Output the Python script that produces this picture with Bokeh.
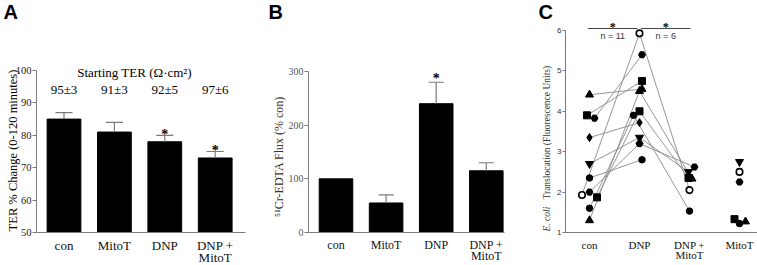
import math
from bokeh.plotting import figure
from bokeh.layouts import row
from bokeh.models import Range1d, FixedTicker
from bokeh.core.properties import value
from bokeh.embed import file_html
from bokeh.resources import INLINE

# ---------------- data ----------------
a_cats = ["con", "MitoT", "DNP", "DNP + MitoT"]
a_vals = [85, 81, 78, 73]
a_errs = [2, 3, 2, 2]
a_start = ["95±3", "91±3", "92±5", "97±6"]
a_sig = [False, False, True, True]
a_yticks = [50, 60, 70, 80, 90, 100]

b_cats = ["con", "MitoT", "DNP", "DNP + MitoT"]
b_vals = [100, 55, 240, 115]
b_errs = [0, 15, 40, 15]
b_sig = [False, False, True, False]
b_yticks = [0, 100, 200, 300]

c_cats = ["con", "DNP", "DNP + MitoT", "MitoT"]
c_markers = ["circle", "hex", "square", "triangle", "triangle", "square",
             "circle", "diamond", "inverted_triangle", "hex", "circle"]
c_open = [True, False, False, False, False, False, False, False, False, False, False]
c_con = [1.93, 3.83, 3.90, 4.41, 1.30, 1.87, 1.60, 3.35, 2.70, 2.00, 2.35]
c_dnp = [5.93, 5.40, 4.75, 4.55, 4.50, 4.00, 3.90, 3.72, 3.35, 3.20, 2.80]
c_dnp_mitot = [2.05, None, None, None, 2.33, 2.35, 1.53, None, 2.50, 2.62, None]
c_jit_con = [-0.15, 0.1, -0.05, 0, 0, 0.15, 0, 0, 0, 0, 0]
c_jit_dnp = [0, 0.05, 0.05, 0.05, 0, 0, -0.12, 0, 0, 0, 0.05]
c_jit_dm = [0, 0, 0, 0.1, 0.05, -0.02, 0, 0, -0.02, 0.1, 0]
c_mitot_markers = ["inverted_triangle", "circle", "hex", "square", "circle", "triangle"]
c_mitot_open = [False, True, False, False, False, False]
c_mitot = [2.75, 2.50, 2.25, 1.33, 1.22, 1.27]
c_jit_mitot = [0, 0, 0, -0.1, 0, 0.12]
c_yticks = [1, 2, 3, 4, 5, 6]
c_sig_n = ["n = 11", "n = 6"]

SERIF = "Liberation Serif"
SANS = "Liberation Sans"
AXC = "#7a7a7a"
H = 265
PAGE = 0


class Geo:
    """linear map between page pixels and data units for one panel (frame = whole canvas)"""
    def __init__(self, left_px, width, ax_px, ax_x, kx, base_py, base_y, ky):
        self.left_px, self.width = left_px, width
        self.ax_px, self.ax_x, self.kx = ax_px, ax_x, kx
        self.base_py, self.base_y, self.ky = base_py, base_y, ky

    def x(self, px):
        return self.ax_x + (px - self.ax_px) / self.kx

    def y(self, py):
        return self.base_y + (self.base_py - py) / self.ky

    def fig(self):
        p = figure(width=self.width, height=H, output_backend="svg", toolbar_location=None,
                   x_range=Range1d(self.x(self.left_px), self.x(self.left_px + self.width)),
                   y_range=Range1d(self.y(PAGE + H), self.y(PAGE)),
                   min_border_left=0, min_border_right=0, min_border_top=0,
                   min_border_bottom=0)
        p.outline_line_color = None
        p.xgrid.visible = False
        p.ygrid.visible = False
        return p


def style_axes(p, g, yticks, x_end_px, tick_font, tick_size, tick_color, xticks, xlabels,
               xl_size, xl_standoff):
    p.yaxis.fixed_location = g.ax_x
    p.yaxis.bounds = (yticks[0], yticks[-1])
    p.yaxis.ticker = FixedTicker(ticks=yticks)
    p.yaxis.axis_line_color = AXC
    p.yaxis.major_tick_line_color = AXC
    p.yaxis.major_tick_out = 4
    p.yaxis.major_tick_in = 0
    p.yaxis.minor_tick_line_color = None
    p.yaxis.major_label_text_font = tick_font
    p.yaxis.major_label_text_font_size = tick_size
    p.yaxis.major_label_text_color = tick_color
    p.yaxis.major_label_standoff = 1
    p.xaxis.fixed_location = g.base_y
    p.xaxis.bounds = (g.ax_x, g.x(x_end_px))
    p.xaxis.ticker = FixedTicker(ticks=xticks)
    p.xaxis.major_label_overrides = {t: l.replace(" + ", " +\n") for t, l in zip(xticks, xlabels)}
    p.xaxis.axis_line_color = AXC
    p.xaxis.major_tick_line_color = None
    p.xaxis.minor_tick_line_color = None
    p.xaxis.major_tick_out = 0
    p.xaxis.major_label_text_font = SERIF
    p.xaxis.major_label_text_font_size = xl_size
    p.xaxis.major_label_text_color = "#111111"
    p.xaxis.major_label_text_line_height = 0.85
    p.xaxis.major_label_standoff = xl_standoff


def txt(p, x, y, text, size, font=SERIF, color="black", align="center",
        baseline="middle", angle=0, style="normal"):
    p.text(x=[x], y=[y], text=[text], text_font_size=value(size), text_font=value(font),
           text_color=color, text_align=align, text_baseline=baseline, angle=angle,
           text_font_style=style)


def bars(p, g, cats, vals, errs, width, capw):
    xs = [i + 0.5 for i in range(len(cats))]
    p.vbar(x=xs, top=vals, bottom=g.base_y, width=width, fill_color="black",
           line_color="black")
    ex = [x for x, e in zip(xs, errs) if e > 0]
    ey0 = [v for v, e in zip(vals, errs) if e > 0]
    ey1 = [v + e for v, e in zip(vals, errs) if e > 0]
    p.segment(x0=ex, y0=ey0, x1=ex, y1=ey1, line_color=AXC, line_width=1.2)
    p.segment(x0=[x - capw / 2 for x in ex], y0=ey1, x1=[x + capw / 2 for x in ex],
              y1=ey1, line_color=AXC, line_width=1.2)
    return xs


# ---------------- panel A ----------------
gA = Geo(0, 252, 36, 0.5 - 27.5 / 50.4, 50.4, 232, a_yticks[0], 162 / 50)
pA = gA.fig()
style_axes(pA, gA, a_yticks, 245, SERIF, "10.5px", "#222222",
           [i + 0.5 for i in range(4)], a_cats, "13px", 5)
xsA = bars(pA, gA, a_cats, a_vals, a_errs, 0.67, 0.34)
for x, v, e, s, t in zip(xsA, a_vals, a_errs, a_sig, a_start):
    txt(pA, x, gA.y(89), t, "13px")
    if s:
        txt(pA, x, v + e + 2.5 - 7 / gA.ky, "*", "14px", baseline="alphabetic", style="bold")
txt(pA, gA.x(134), gA.y(72), "Starting TER (\u03a9\u00b7cm\u00b2)", "13px")
txt(pA, gA.x(12), gA.y(150), "TER % Change (0-120 minutes)", "12.5px", angle=math.pi / 2)
txt(pA, gA.x(3), gA.y(11), "A", "20px", font=SANS, style="bold", align="left")

# ---------------- panel B ----------------
gB = Geo(252, 253, 308, 0.5 - 27.5 / 50.1, 50.1, 232, b_yticks[0], 161 / 300)
pB = gB.fig()
style_axes(pB, gB, b_yticks, 504, SERIF, "10px", "#555555",
           [i + 0.5 for i in range(4)], b_cats, "12px", 5)
xsB = bars(pB, gB, b_cats, b_vals, b_errs, 0.67, 0.3)
for x, v, e, s in zip(xsB, b_vals, b_errs, b_sig):
    if s:
        txt(pB, x, v + e + 20 - 7 / gB.ky, "*", "14px", baseline="alphabetic", style="bold")
txt(pB, gB.x(278), gB.y(156), "\u2075\u00b9Cr-EDTA Flux (% con)", "12px",
    color="#333333", angle=math.pi / 2)
txt(pB, gB.x(268), gB.y(11), "B", "20px", font=SANS, style="bold", align="left")

# ---------------- panel C ----------------
gC = Geo(505, 252, 565, 1 - 24 / 50.0, 50.0, 232, c_yticks[0], 202 / 5)
pC = gC.fig()
style_axes(pC, gC, c_yticks, 757, SANS, "8px", "#333333",
           [1, 2, 3, 4], c_cats, "11px", 6)
pC.yaxis.major_tick_out = 3

LC = "#8a8a8a"
xs0 = [1 + j for j in c_jit_con]
xs1 = [2 + j for j in c_jit_dnp]
pC.segment(x0=xs0, y0=c_con, x1=xs1, y1=c_dnp, line_color=LC, line_width=0.9)
idx = [i for i, v in enumerate(c_dnp_mitot) if v is not None]
pC.segment(x0=[xs1[i] for i in idx], y0=[c_dnp[i] for i in idx],
           x1=[3 + c_jit_dm[i] for i in idx], y1=[c_dnp_mitot[i] for i in idx],
           line_color=LC, line_width=0.9)


def pts(p, xs, ys, marks, opens):
    for x, y, m, o in zip(xs, ys, marks, opens):
        size = {"triangle": 8, "inverted_triangle": 8, "square": 7, "hex": 7,
                "diamond": 8}.get(m, 6.5)
        if o:
            p.scatter([x], [y], marker="circle", size=6.5, fill_color="white",
                      line_color="black", line_width=1.6)
        else:
            p.scatter([x], [y], marker=m, size=size, fill_color="black", line_color="black")


pts(pC, xs0, c_con, c_markers, c_open)
pts(pC, xs1, c_dnp, c_markers, c_open)
pts(pC, [3 + c_jit_dm[i] for i in idx], [c_dnp_mitot[i] for i in idx],
    [c_markers[i] for i in idx], [c_open[i] for i in idx])
pts(pC, [4 + j for j in c_jit_mitot], c_mitot, c_mitot_markers, c_mitot_open)

for (xa, xb), t in zip([(0.97, 1.96), (2.03, 3.02)], c_sig_n):
    pC.segment(x0=[xa], y0=[gC.y(28)], x1=[xb], y1=[gC.y(28)], line_color="#444444",
               line_width=1)
    txt(pC, (xa + xb) / 2, gC.y(20) - 6 / gC.ky, "*", "12px", baseline="alphabetic",
        style="bold")
    txt(pC, (xa + xb) / 2, gC.y(35), t, "9px", font=SANS, color="#333333")

txt(pC, gC.x(546), gC.y(231), "E. coli", "9.5px", align="left", angle=math.pi / 2,
    style="italic", color="#333333")
txt(pC, gC.x(546), gC.y(199), "Translocation (Fluorescence Units)", "9.5px",
    align="left", angle=math.pi / 2, color="#333333")
txt(pC, gC.x(538), gC.y(11), "C", "20px", font=SANS, style="bold", align="left")

layout = row(pA, pB, pC, spacing=0)
open("out.html", "w").write(file_html(layout, INLINE))
